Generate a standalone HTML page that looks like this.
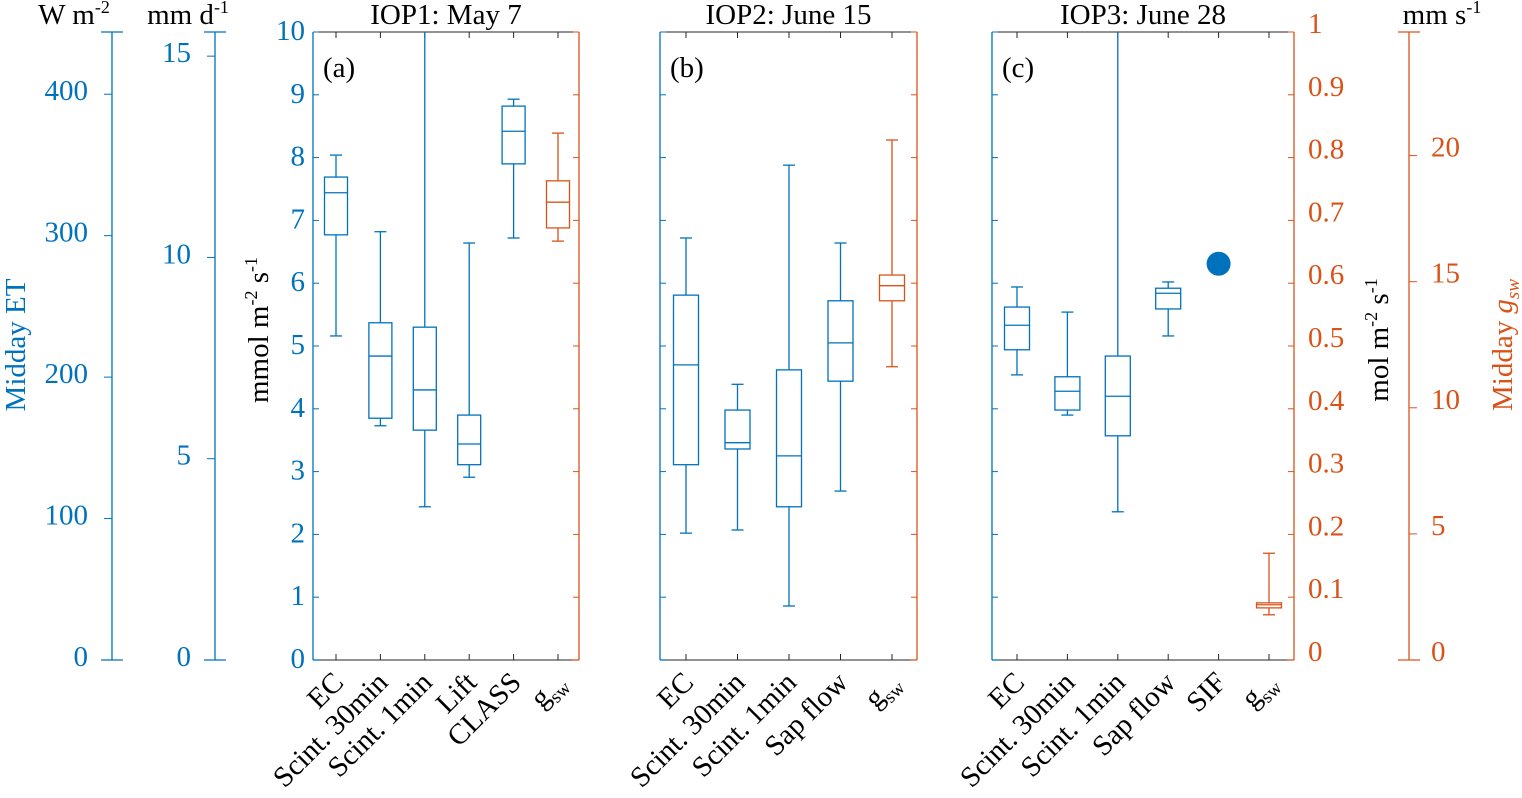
<!DOCTYPE html>
<html><head><meta charset="utf-8"><style>
body{margin:0;background:#fff;}
svg{font-family:"Liberation Serif",serif;}
</style></head><body>
<svg id="c" width="1522" height="793" viewBox="0 0 1522 793" xmlns="http://www.w3.org/2000/svg"></svg>
<script>
const panelTitles=["IOP1: May 7","IOP2: June 15","IOP3: June 28"];
const panelLetters=["(a)","(b)","(c)"];
const catsA=["EC","Scint. 30min","Scint. 1min","Lift","CLASS","gsw"];
const catsB=["EC","Scint. 30min","Scint. 1min","Sap flow","gsw"];
const catsC=["EC","Scint. 30min","Scint. 1min","Sap flow","SIF","gsw"];
// [low, q1, median, q3, high] in mmol m-2 s-1 (gsw in 0.1 mol m-2 s-1 units on same scale)
const boxesA=[[5.16,6.77,7.44,7.69,8.04],[3.73,3.85,4.84,5.37,6.82],[2.44,3.66,4.30,5.30,10],[2.91,3.11,3.44,3.90,6.64],[6.72,7.90,8.42,8.82,8.93],[6.67,6.88,7.29,7.63,8.39]];
const boxesB=[[2.02,3.11,4.70,5.81,6.72],[2.07,3.36,3.46,3.98,4.39],[0.86,2.44,3.25,4.62,7.88],[2.69,4.44,5.05,5.72,6.64],[4.67,5.72,5.96,6.13,8.28]];
const boxesC=[[4.54,4.94,5.33,5.62,5.94],[3.90,3.98,4.28,4.51,5.54],[2.36,3.57,4.20,4.84,10],[5.16,5.59,5.84,5.92,6.02],null,[0.72,0.83,0.88,0.91,1.70]];
const sifValue=6.31;
const leftTicks=[0,1,2,3,4,5,6,7,8,9,10];
const rightTicks=["0","0.1","0.2","0.3","0.4","0.5","0.6","0.7","0.8","0.9","1"];
const wTicks=[0,100,200,300,400];
const mmdTicks=[0,5,10,15];
const mmsTicks=[0,5,10,15,20];

const BLUE="#0072BD",ORANGE="#D95319",NS="http://www.w3.org/2000/svg";
const svg=document.getElementById('c');
const TOP=32,BOT=660,FS=29;
const y=v=>BOT-(v/10)*(BOT-TOP);
function el(t,a,p){const e=document.createElementNS(NS,t);for(const k in a)e.setAttribute(k,a[k]);(p||svg).appendChild(e);return e;}
function txt(s,a,p){const e=el('text',a,p);e.textContent=s;return e;}

const panels=[
 {L:313,R:579,x0:336,dx:44.4,cats:catsA,boxes:boxesA,bw:23,labels:true,rlabels:false},
 {L:660,R:917,x0:686,dx:51.5,cats:catsB,boxes:boxesB,bw:25,labels:false,rlabels:false},
 {L:992,R:1294,x0:1017,dx:50.4,cats:catsC,boxes:boxesC,bw:25,labels:false,rlabels:true}
];
panels.forEach((P,pi)=>{
 const g=el('g',{});  
 const tt=txt(panelTitles[pi],{x:(P.L+P.R)/2,y:24,'text-anchor':'middle','font-size':FS,fill:'#000'},g);
  
 el('line',{x1:P.L,y1:TOP,x2:P.R,y2:TOP,stroke:'#262626','stroke-width':1},g);
 el('line',{x1:P.L,y1:BOT,x2:P.R,y2:BOT,stroke:'#262626','stroke-width':1},g);
 el('line',{x1:P.L,y1:TOP,x2:P.L,y2:BOT,stroke:BLUE,'stroke-width':1.3},g);
 el('line',{x1:P.R,y1:TOP,x2:P.R,y2:BOT,stroke:ORANGE,'stroke-width':1.3},g);
 el('line',{x1:P.L,y1:BOT,x2:P.L+7,y2:BOT,stroke:BLUE,'stroke-width':1.3},g);
 el('line',{x1:P.R-7,y1:BOT,x2:P.R,y2:BOT,stroke:ORANGE,'stroke-width':1.3},g);
 leftTicks.forEach(v=>{
  el('line',{x1:P.L,y1:y(v),x2:P.L+6,y2:y(v),stroke:BLUE},g);
  el('line',{x1:P.R-6,y1:y(v),x2:P.R,y2:y(v),stroke:ORANGE},g);
  if(P.labels){const t=txt(String(v),{x:P.L-8,y:y(v)+8,'text-anchor':'end','font-size':FS,fill:BLUE},g);}
 });
 if(P.rlabels) rightTicks.forEach((s,i)=>{const t=txt(s,{x:P.R+14,y:y(i)+1,'text-anchor':'start','font-size':FS,fill:ORANGE},g);});
 const lt=txt(panelLetters[pi],{x:P.L+10,y:77,'text-anchor':'start','font-size':FS,fill:'#000'},g);
  
 P.cats.forEach((c,i)=>{
  const cx=P.x0+i*P.dx;
  el('line',{x1:cx,y1:TOP,x2:cx,y2:TOP+6,stroke:'#262626'},g);
  el('line',{x1:cx,y1:BOT-6,x2:cx,y2:BOT,stroke:'#262626'},g);
  const col=c==='gsw'?ORANGE:BLUE;
  const b=P.boxes[i];
  if(c==='SIF'){
   const d=el('circle',{cx:cx,cy:y(sifValue),r:12,fill:BLUE},g);
    
  } else if(b){
   const bg=el('g',{stroke:col,fill:'none','stroke-width':1.3},g);
   
   
   const h=P.bw/2,cw=6;
   el('line',{x1:cx,y1:y(b[4]),x2:cx,y2:y(b[3])},bg);
   el('line',{x1:cx,y1:y(b[1]),x2:cx,y2:y(b[0])},bg);
   if(b[4]<10) el('line',{x1:cx-cw,y1:y(b[4]),x2:cx+cw,y2:y(b[4])},bg);
   el('line',{x1:cx-cw,y1:y(b[0]),x2:cx+cw,y2:y(b[0])},bg);
   el('rect',{x:cx-h,y:y(b[3]),width:P.bw,height:y(b[1])-y(b[3])},bg);
   el('line',{x1:cx-h,y1:y(b[2]),x2:cx+h,y2:y(b[2])},bg);
  }
  const xl=el('text',{transform:`translate(${cx+9},${BOT+24}) rotate(-45)`,'text-anchor':'end','font-size':FS,fill:'#000'},g);
   
  if(c==='gsw'){xl.textContent='g';const s=el('tspan',{'font-size':19,dy:7},xl);s.textContent='sw';}
  else xl.textContent=c;
 });
});

function vaxis(x,ticks,scaleTop,col,name,labelRight){
 const g=el('g',{});  
 el('line',{x1:x,y1:TOP,x2:x,y2:BOT,stroke:col,'stroke-width':1.3},g);
 el('line',{x1:x-11,y1:TOP,x2:x+11,y2:TOP,stroke:col,'stroke-width':1.3},g);
 el('line',{x1:x-11,y1:BOT,x2:x+11,y2:BOT,stroke:col,'stroke-width':1.3},g);
 ticks.forEach(v=>{const yy=BOT-v/scaleTop*(BOT-TOP);
  el('line',{x1:labelRight?x:x-8,y1:yy,x2:labelRight?x+8:x,y2:yy,stroke:col},g);
  const t=txt(String(v),{x:labelRight?x+22:x-24,y:labelRight?yy+1:yy+6,'text-anchor':labelRight?'start':'end','font-size':FS,fill:col},g);
   });
}
vaxis(112,wTicks,444,BLUE,'w-m2-axis',false);
vaxis(215,mmdTicks,15.6,BLUE,'mm-d-axis',false);
vaxis(1409,mmsTicks,24.9,ORANGE,'mm-s-axis',true);

function unit(x,base,sup,name){const t=el('text',{x:x,y:24,'text-anchor':'middle','font-size':FS,fill:'#000'});t.textContent=base;const s=el('tspan',{'font-size':18,dy:-11},t);s.textContent=sup;}
unit(74,'W m','-2','w-unit-label');
unit(188,'mm d','-1','mm-d-unit-label');
unit(1442,'mm s','-1','mm-s-unit-label');

let t=el('text',{transform:'translate(25,345) rotate(-90)','text-anchor':'middle','font-size':FS,fill:BLUE});t.textContent='Midday ET';

t=el('text',{transform:'translate(268,330) rotate(-90)','text-anchor':'middle','font-size':FS,fill:'#000'});

t.appendChild(document.createTextNode('mmol m'));let s=el('tspan',{'font-size':18,dy:-11},t);s.textContent='-2';s=el('tspan',{dy:11},t);s.textContent=' s';s=el('tspan',{'font-size':18,dy:-11},t);s.textContent='-1';
t=el('text',{transform:'translate(1388,340) rotate(-90)','text-anchor':'middle','font-size':FS,fill:'#000'});

t.appendChild(document.createTextNode('mol m'));s=el('tspan',{'font-size':18,dy:-11},t);s.textContent='-2';s=el('tspan',{dy:11},t);s.textContent=' s';s=el('tspan',{'font-size':18,dy:-11},t);s.textContent='-1';
t=el('text',{transform:'translate(1512,345) rotate(-90)','text-anchor':'middle','font-size':FS,fill:ORANGE});

t.appendChild(document.createTextNode('Midday '));s=el('tspan',{'font-style':'italic'},t);s.textContent='g';s=el('tspan',{'font-style':'italic','font-size':19,dy:7},t);s.textContent='sw';
</script>
</body></html>
